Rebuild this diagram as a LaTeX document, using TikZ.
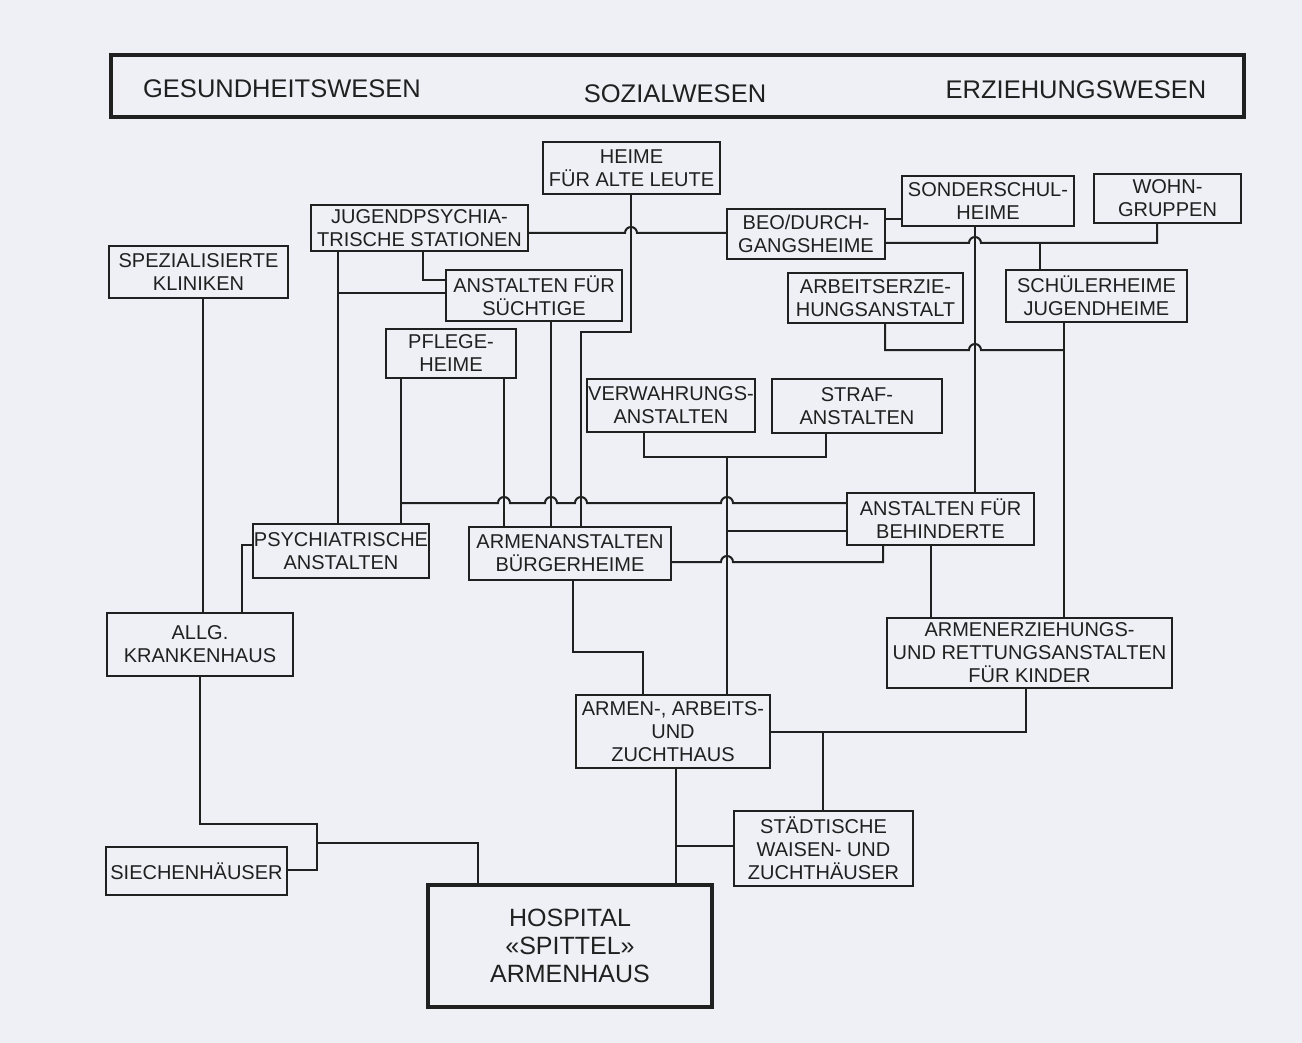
\documentclass[tikz,border=0pt]{standalone}
\usepackage{fontspec}
\setmainfont{Liberation Sans}
\definecolor{paper}{RGB}{238,240,245}
\definecolor{ink}{RGB}{32,32,32}
\tikzset{
  box/.style={draw=ink, line width=2.3pt, fill=paper, inner sep=0pt, align=center,
    text=ink, font=\fontsize{20}{23}\selectfont},
  bigbox/.style={box, line width=3.4pt, font=\fontsize{25}{28}\selectfont},
  hdrtext/.style={text=ink, inner sep=0pt, font=\fontsize{25.5}{28}\selectfont},
  con/.style={draw=ink, line width=2pt, line join=miter},
  hopover/.style={insert path={-- ([xshift=-6pt]#1) arc[start angle=180,end angle=0,radius=6pt]}}
}
\begin{document}
\begin{tikzpicture}[x=1pt,y=-1pt]
\fill[paper] (0,0) rectangle (1302,1043);
\useasboundingbox (0,0) rectangle (1302,1043);

% header
\node[draw=ink, line width=3.4pt, minimum width=1133pt, minimum height=62pt, inner sep=0pt] (header) at (677.5,86) {};
\node[hdrtext] (gw) at (282,89) {GESUNDHEITSWESEN};
\node[hdrtext] (sw) at (675,94) {SOZIALWESEN};
\node[hdrtext] (ew) at (1076,90) {ERZIEHUNGSWESEN};

% boxes
\node[box, minimum width=177pt, minimum height=52pt] (heime) at (631.5,168) {HEIME\\FÜR ALTE LEUTE};
\node[box, minimum width=217pt, minimum height=46pt] (jugend) at (419.5,228) {JUGENDPSYCHIA-\\TRISCHE STATIONEN};
\node[box, minimum width=179pt, minimum height=52pt] (spez) at (198.5,272) {SPEZIALISIERTE\\KLINIKEN};
\node[box, minimum width=176pt, minimum height=51pt] (sucht) at (534,295.5) {ANSTALTEN FÜR\\SÜCHTIGE};
\node[box, minimum width=130pt, minimum height=49pt] (pflege) at (451,353.5) {PFLEGE-\\HEIME};
\node[box, minimum width=158pt, minimum height=50pt] (beo) at (806,234) {BEO/DURCH-\\GANGSHEIME};
\node[box, minimum width=172pt, minimum height=50pt] (sonder) at (988,201) {SONDERSCHUL-\\HEIME};
\node[box, minimum width=147pt, minimum height=49pt] (wohn) at (1167.5,198.5) {WOHN-\\GRUPPEN};
\node[box, minimum width=175pt, minimum height=50pt] (arbeitserz) at (875.5,298) {ARBEITSERZIE-\\HUNGSANSTALT};
\node[box, minimum width=181pt, minimum height=52pt] (schueler) at (1096.5,296) {SCHÜLERHEIME\\JUGENDHEIME};
\node[box, minimum width=168pt, minimum height=53pt] (verw) at (671,405.5) {VERWAHRUNGS-\\ANSTALTEN};
\node[box, minimum width=170pt, minimum height=54pt] (straf) at (857,406) {STRAF-\\ANSTALTEN};
\node[box, minimum width=187pt, minimum height=52pt] (behind) at (940.5,519) {ANSTALTEN FÜR\\BEHINDERTE};
\node[box, minimum width=176pt, minimum height=54pt] (psych) at (341,551) {PSYCHIATRISCHE\\ANSTALTEN};
\node[box, minimum width=202pt, minimum height=53pt] (armenanst) at (570,553.5) {ARMENANSTALTEN\\BÜRGERHEIME};
\node[box, minimum width=186pt, minimum height=63pt] (allg) at (200,644.5) {ALLG.\\KRANKENHAUS};
\node[box, minimum width=285pt, minimum height=70pt] (armenerz) at (1029.5,653) {ARMENERZIEHUNGS-\\UND RETTUNGSANSTALTEN\\FÜR KINDER};
\node[box, minimum width=194pt, minimum height=73pt] (armenarb) at (673,731.5) {ARMEN-, ARBEITS-\\UND\\ZUCHTHAUS};
\node[box, minimum width=179pt, minimum height=75pt] (staedt) at (823.5,848.5) {STÄDTISCHE\\WAISEN- UND\\ZUCHTHÄUSER};
\node[box, minimum width=181pt, minimum height=48pt] (siechen) at (196.5,871) {SIECHENHÄUSER};
\node[bigbox, minimum width=284pt, minimum height=122pt] (hospital) at (570,946) {HOSPITAL\\«SPITTEL»\\ARMENHAUS};

% junction / bend coordinates
\coordinate (a1) at (631,332);
\coordinate (a2) at (581,332);
\coordinate (a3) at (581,503);
\coordinate (b1) at (631,233);
\coordinate (xc) at (338,293);
\coordinate (d1) at (423,280);
\coordinate (f1) at (551,503);
\coordinate (g1) at (401,503);
\coordinate (h1) at (504,503);
\coordinate (j1) at (644,457);
\coordinate (j2) at (826,457);
\coordinate (j3) at (727,503);
\coordinate (k1) at (727,531);
\coordinate (l0) at (727,562);
\coordinate (l1) at (883,562);
\coordinate (m1) at (931,600);
\coordinate (n1) at (975,243);
\coordinate (o1) at (894,219);
\coordinate (p1) at (1157,243);
\coordinate (q1) at (1040,243);
\coordinate (r1) at (885,350);
\coordinate (r2) at (1064,350);
\coordinate (r3) at (975,350);
\coordinate (s1) at (203,450);
\coordinate (t1) at (242,545);
\coordinate (u1) at (573,652);
\coordinate (u2) at (643,652);
\coordinate (v1) at (1026,732);
\coordinate (v2) at (823,732);
\coordinate (w1) at (676,846);
\coordinate (x1) at (200,824);
\coordinate (x2) at (317,824);
\coordinate (x3) at (317,870);
\coordinate (y1) at (478,843);
\coordinate (y2) at (317,843);

% connectors
\draw[con] (heime.south -| a1) -- (a1) -- (a2) -- (armenanst.north -| a2);
\draw[con] (jugend.east |- b1) [hopover=b1] -- (beo.west |- b1);
\draw[con] (jugend.south -| xc) -- (psych.north -| xc);
\draw[con] (xc) -- (sucht.west |- xc);
\draw[con] (jugend.south -| d1) -- (d1) -- (sucht.west |- d1);
\draw[con] (sucht.south -| f1) -- (armenanst.north -| f1);
\draw[con] (pflege.south -| g1) -- (psych.north -| g1);
\draw[con] (pflege.south -| h1) -- (armenanst.north -| h1);
\draw[con] (g1) [hopover=h1] [hopover=f1] [hopover=a3] [hopover=j3] -- (behind.west |- g1);
\draw[con] (verw.south -| j1) -- (j1) -- (j2) -- (straf.south -| j2);
\draw[con] (j1 -| j3) -- (armenarb.north -| j3);
\draw[con] (k1) -- (behind.west |- k1);
\draw[con] (armenanst.east |- l1) [hopover=l0] -- (l1) -- (behind.south -| l1);
\draw[con] (behind.south -| m1) -- (armenerz.north -| m1);
\draw[con] (sonder.south -| n1) -- (behind.north -| n1);
\draw[con] (beo.east |- o1) -- (sonder.west |- o1);
\draw[con] (beo.east |- p1) [hopover=n1] -- (p1) -- (wohn.south -| p1);
\draw[con] (q1) -- (schueler.north -| q1);
\draw[con] (arbeitserz.south -| r1) -- (r1) [hopover=r3] -- (r2);
\draw[con] (schueler.south -| r2) -- (armenerz.north -| r2);
\draw[con] (spez.south -| s1) -- (allg.north -| s1);
\draw[con] (psych.west |- t1) -- (t1) -- (allg.north -| t1);
\draw[con] (armenanst.south -| u1) -- (u1) -- (u2) -- (armenarb.north -| u2);
\draw[con] (armenarb.east |- v1) -- (v1) -- (armenerz.south -| v1);
\draw[con] (v2) -- (staedt.north -| v2);
\draw[con] (armenarb.south -| w1) -- (hospital.north -| w1);
\draw[con] (w1) -- (staedt.west |- w1);
\draw[con] (allg.south -| x1) -- (x1) -- (x2) -- (x3) -- (siechen.east |- x3);
\draw[con] (hospital.north -| y1) -- (y1) -- (y2);
\end{tikzpicture}
\end{document}
